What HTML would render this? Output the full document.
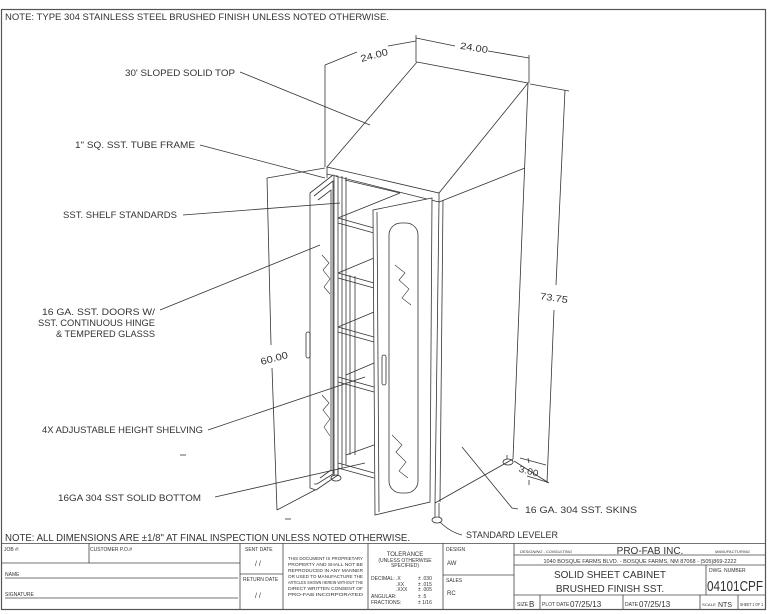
<!DOCTYPE html>
<html><head><meta charset="utf-8"><style>
html,body{margin:0;padding:0;background:#fff;}
svg{display:block;}
text{font-family:"Liberation Sans",sans-serif;fill:#333;}
</style></head><body>
<svg width="768" height="614" viewBox="0 0 768 614" xmlns="http://www.w3.org/2000/svg">
<g fill="none" stroke="#333" stroke-width="0.8">
<rect x="1.5" y="9.5" width="764" height="600" stroke="#555" stroke-width="1.2"/>
<polygon points="417,62 528,83 439,193 327,167" fill="#fff"/>
<polyline points="327,167 327,174 439,202 439,193"/>
<line x1="439" y1="202" x2="525" y2="168"/>
<line x1="528" y1="83" x2="513" y2="459"/>
<line x1="439" y1="202" x2="435" y2="503"/>
<line x1="443" y1="200" x2="440" y2="502"/>
<line x1="435" y1="503" x2="513" y2="459"/>
<line x1="337" y1="175" x2="337" y2="470"/>
<line x1="342" y1="176" x2="342" y2="468"/>
<line x1="346" y1="177" x2="346" y2="465"/>
<line x1="327" y1="174" x2="327" y2="178"/>
<line x1="345" y1="180" x2="400" y2="193"/>
<g>
<polyline points="338,218 374,228"/><polyline points="338,223 374,233"/><line x1="338" y1="218" x2="400" y2="193"/>
<polyline points="338,273 374,283"/><polyline points="338,278 374,288"/><line x1="338" y1="273" x2="374" y2="258"/>
<polyline points="338,327 374,337"/><polyline points="338,332 374,342"/><line x1="338" y1="327" x2="374" y2="312"/>
<polyline points="338,377 374,387"/><polyline points="338,382 374,392"/><line x1="346" y1="375" x2="374" y2="363"/>
<polyline points="338,463 374,473"/><polyline points="338,468 374,478"/><line x1="346" y1="455" x2="374" y2="445"/>
<line x1="350" y1="275" x2="350" y2="455"/><line x1="355" y1="276" x2="355" y2="455"/>
</g>
<polygon points="373,210 432,198 430,502 375,515" fill="#fff"/>
<line x1="377" y1="212" x2="379" y2="512"/>
<rect x="389" y="223" width="29" height="270" rx="12" ry="12"/>
<rect x="382" y="355" width="4" height="30" rx="2"/>
<polyline points="395,265 405,273 399,280 409,289 402,298 411,305" stroke-width="0.6"/>
<polyline points="392,435 402,445 396,452 406,462 399,471 408,478" stroke-width="0.6"/>
<polygon points="310,193 333,175 338,177 338,475 316,490 310,488" fill="#fff"/>
<polyline points="314,196 333,181 333,474 317,484 314,484"/>
<polyline points="318,200 331,190 331,470 320,478"/>
<line x1="334" y1="176" x2="334" y2="476"/>
<rect x="306" y="332" width="4" height="26" rx="2"/>
<polyline points="322,255 329,263 323,270 330,279 324,287 330,294" stroke-width="0.6"/>
<polyline points="322,395 329,403 323,410 330,419 324,427 330,436" stroke-width="0.6"/>
<ellipse cx="336" cy="478" rx="5" ry="3"/><line x1="334" y1="470" x2="334" y2="476"/><line x1="338" y1="470" x2="338" y2="476"/>
<ellipse cx="437" cy="520" rx="5" ry="3"/><line x1="435" y1="503" x2="435" y2="517"/><line x1="439" y1="503" x2="439" y2="517"/>
<ellipse cx="508" cy="462" rx="5" ry="3"/><line x1="507" y1="455" x2="507" y2="459"/>
<line x1="325" y1="65" x2="325" y2="167"/>
<line x1="416" y1="35" x2="416" y2="62"/>
<line x1="325" y1="65" x2="357" y2="52"/><line x1="388" y1="46" x2="416" y2="41"/>
<line x1="416" y1="38" x2="455" y2="46"/><line x1="488" y1="51" x2="529" y2="58"/>
<line x1="529" y1="55" x2="529" y2="83"/>
<line x1="530" y1="84" x2="569" y2="91"/>
<line x1="565" y1="90" x2="556" y2="285"/><line x1="554" y1="310" x2="547" y2="483"/>
<line x1="514" y1="461" x2="549" y2="483"/>
<line x1="267" y1="178" x2="325" y2="168"/>
<line x1="267" y1="178" x2="271" y2="345"/><line x1="272" y1="368" x2="277" y2="510"/>
<line x1="277" y1="510" x2="315" y2="490"/>
<line x1="520" y1="458" x2="546" y2="465"/><line x1="527" y1="476" x2="547" y2="482"/>
<line x1="528" y1="458" x2="529" y2="463"/><line x1="529" y1="480" x2="529" y2="485"/>
<line x1="240" y1="72" x2="370" y2="125"/>
<line x1="200" y1="145" x2="325" y2="178"/>
<line x1="183" y1="215" x2="340" y2="203"/>
<line x1="160" y1="310" x2="320" y2="245"/>
<line x1="208" y1="430" x2="365" y2="377"/>
<line x1="215" y1="497" x2="365" y2="463"/>
<polyline points="462,447 512,508 518,509"/>
<path d="M440,522 Q450,532 462,535"/>
<line x1="180" y1="455" x2="186" y2="455"/>
<line x1="285" y1="519" x2="291" y2="519"/>
<g stroke="#444" stroke-width="0.8">
<line x1="1.5" y1="543.5" x2="765.5" y2="543.5"/>
<line x1="89" y1="543" x2="89" y2="563"/>
<line x1="2" y1="563" x2="240" y2="563"/>
<line x1="5" y1="578" x2="238" y2="578"/>
<line x1="5" y1="598" x2="238" y2="598"/>
<line x1="240" y1="543" x2="240" y2="609"/>
<line x1="283" y1="543" x2="283" y2="609"/>
<line x1="240" y1="574" x2="283" y2="574"/>
<line x1="368" y1="543" x2="368" y2="609"/>
<line x1="443" y1="543" x2="443" y2="609"/>
<line x1="443" y1="575" x2="514" y2="575"/>
<line x1="514" y1="543" x2="514" y2="609"/>
<line x1="514" y1="555" x2="765" y2="555"/>
<line x1="514" y1="565" x2="765" y2="565"/>
<line x1="514" y1="595" x2="765" y2="595"/>
<line x1="706" y1="565" x2="706" y2="595"/>
<line x1="540" y1="595" x2="540" y2="609"/>
<line x1="623" y1="595" x2="623" y2="609"/>
<line x1="700" y1="595" x2="700" y2="609"/>
<line x1="738" y1="595" x2="738" y2="609"/>
</g>
</g>
<g font-size="9.5">
<text x="5" y="20" font-size="9" textLength="384" lengthAdjust="spacingAndGlyphs">NOTE: TYPE 304 STAINLESS STEEL BRUSHED FINISH UNLESS NOTED OTHERWISE.</text>
<text x="125" y="76" textLength="110" lengthAdjust="spacingAndGlyphs">30' SLOPED SOLID TOP</text>
<text x="75" y="148" textLength="120" lengthAdjust="spacingAndGlyphs">1" SQ. SST. TUBE FRAME</text>
<text x="63" y="218" textLength="114" lengthAdjust="spacingAndGlyphs">SST. SHELF STANDARDS</text>
<text x="155" y="315" text-anchor="end" textLength="113" lengthAdjust="spacingAndGlyphs">16 GA. SST. DOORS W/</text>
<text x="155" y="326" text-anchor="end" textLength="117" lengthAdjust="spacingAndGlyphs">SST. CONTINUOUS HINGE</text>
<text x="155" y="337" text-anchor="end" textLength="99" lengthAdjust="spacingAndGlyphs">&amp; TEMPERED GLASSS</text>
<text x="42" y="433" textLength="161" lengthAdjust="spacingAndGlyphs">4X ADJUSTABLE HEIGHT SHELVING</text>
<text x="58" y="501" textLength="143" lengthAdjust="spacingAndGlyphs">16GA 304 SST SOLID BOTTOM</text>
<text x="525" y="513" textLength="112" lengthAdjust="spacingAndGlyphs">16 GA. 304 SST. SKINS</text>
<text x="466" y="538" textLength="92" lengthAdjust="spacingAndGlyphs">STANDARD LEVELER</text>
<text x="5" y="541" font-size="10.5" textLength="405" lengthAdjust="spacingAndGlyphs">NOTE: ALL DIMENSIONS ARE ±1/8" AT FINAL INSPECTION UNLESS NOTED OTHERWISE.</text>
<text x="360" y="59" transform="rotate(-15 372 55)" textLength="28" lengthAdjust="spacingAndGlyphs">24.00</text>
<text x="460" y="51" transform="rotate(9 474 48)" textLength="28" lengthAdjust="spacingAndGlyphs">24.00</text>
<text x="540" y="301" transform="rotate(8 553 298)" textLength="28" lengthAdjust="spacingAndGlyphs">73.75</text>
<text x="260" y="362" transform="rotate(-15 272 358)" textLength="28" lengthAdjust="spacingAndGlyphs">60.00</text>
<text x="519" y="474" transform="rotate(15 528 470)" font-size="9" textLength="20" lengthAdjust="spacingAndGlyphs">3.00</text>
</g>
<g font-size="5">
<text x="4" y="551">JOB #:</text>
<text x="90" y="551">CUSTOMER P.O.#</text>
<text x="5" y="576">NAME</text>
<text x="5" y="596">SIGNATURE</text>
<text x="245" y="551">SENT DATE</text>
<text x="255" y="566" font-size="7">/ /</text>
<text x="243" y="581">RETURN DATE</text>
<text x="255" y="598" font-size="7">/ /</text>
<g font-size="4.6">
<text x="288" y="560" textLength="75" lengthAdjust="spacingAndGlyphs">THIS DOCUMENT IS PROPRIETARY</text>
<text x="288" y="566" textLength="75" lengthAdjust="spacingAndGlyphs">PROPERTY AND SHALL NOT BE</text>
<text x="288" y="572" textLength="75" lengthAdjust="spacingAndGlyphs">REPRODUCED IN ANY MANNER</text>
<text x="288" y="578" textLength="75" lengthAdjust="spacingAndGlyphs">OR USED TO MANUFACTURE THE</text>
<text x="288" y="584" textLength="75" lengthAdjust="spacingAndGlyphs">ARTICLES SHOWN HEREIN WITHOUT THE</text>
<text x="288" y="590" textLength="75" lengthAdjust="spacingAndGlyphs">DIRECT WRITTEN CONSENT OF</text>
<text x="288" y="596" textLength="75" lengthAdjust="spacingAndGlyphs">PRO-FAB INCORPORATED</text>
</g>
<text x="405" y="556" text-anchor="middle" font-size="6">TOLERANCE</text>
<text x="405" y="562" text-anchor="middle" font-size="5">(UNLESS OTHERWISE</text>
<text x="405" y="567" text-anchor="middle" font-size="5">SPECIFIED)</text>
<text x="371" y="580" font-size="5">DECIMAL: .X</text><text x="418" y="580" font-size="5">± .030</text>
<text x="396" y="586" font-size="5">.XX</text><text x="418" y="586" font-size="5">± .015</text>
<text x="396" y="591" font-size="5">.XXX</text><text x="418" y="591" font-size="5">± .005</text>
<text x="371" y="598" font-size="5">ANGULAR:</text><text x="418" y="598" font-size="5">± .5</text>
<text x="371" y="604" font-size="5">FRACTIONS:</text><text x="418" y="604" font-size="5">± 1/16</text>
<text x="446" y="551">DESIGN</text>
<text x="447" y="565" font-size="6">AW</text>
<text x="446" y="582">SALES</text>
<text x="447" y="595" font-size="6">RC</text>
<text x="520" y="553" font-style="italic" font-size="4">DESIGNING - CONSULTING</text>
<text x="650" y="554" text-anchor="middle" font-size="10">PRO-FAB INC.</text>
<text x="715" y="553" font-style="italic" font-size="4">MANUFACTURING</text>
<text x="640" y="563" text-anchor="middle" font-size="5.5">1040 BOSQUE FARMS BLVD. - BOSQUE FARMS, NM 87068 - (505)869-2222</text>
<text x="610" y="578" text-anchor="middle" font-size="10">SOLID SHEET CABINET</text>
<text x="610" y="592" text-anchor="middle" font-size="10">BRUSHED FINISH SST.</text>
<text x="709" y="572">DWG. NUMBER</text>
<text x="735" y="591" text-anchor="middle" font-size="15" textLength="56" lengthAdjust="spacingAndGlyphs">04101CPF</text>
<text x="517" y="606">SIZE</text><text x="529" y="607" font-size="8">B</text>
<text x="542" y="606">PLOT DATE</text><text x="570" y="607" font-size="8">07/25/13</text>
<text x="625" y="606">DATE</text><text x="639" y="607" font-size="8">07/25/13</text>
<text x="702" y="606" font-size="4" textLength="14" lengthAdjust="spacingAndGlyphs">SCALE</text>
<text x="718" y="607" font-size="7">NTS</text>
<text x="740" y="606" font-size="4.5" textLength="23" lengthAdjust="spacingAndGlyphs">SHEET 1 OF 1</text>
</g>
</svg>
</body></html>
